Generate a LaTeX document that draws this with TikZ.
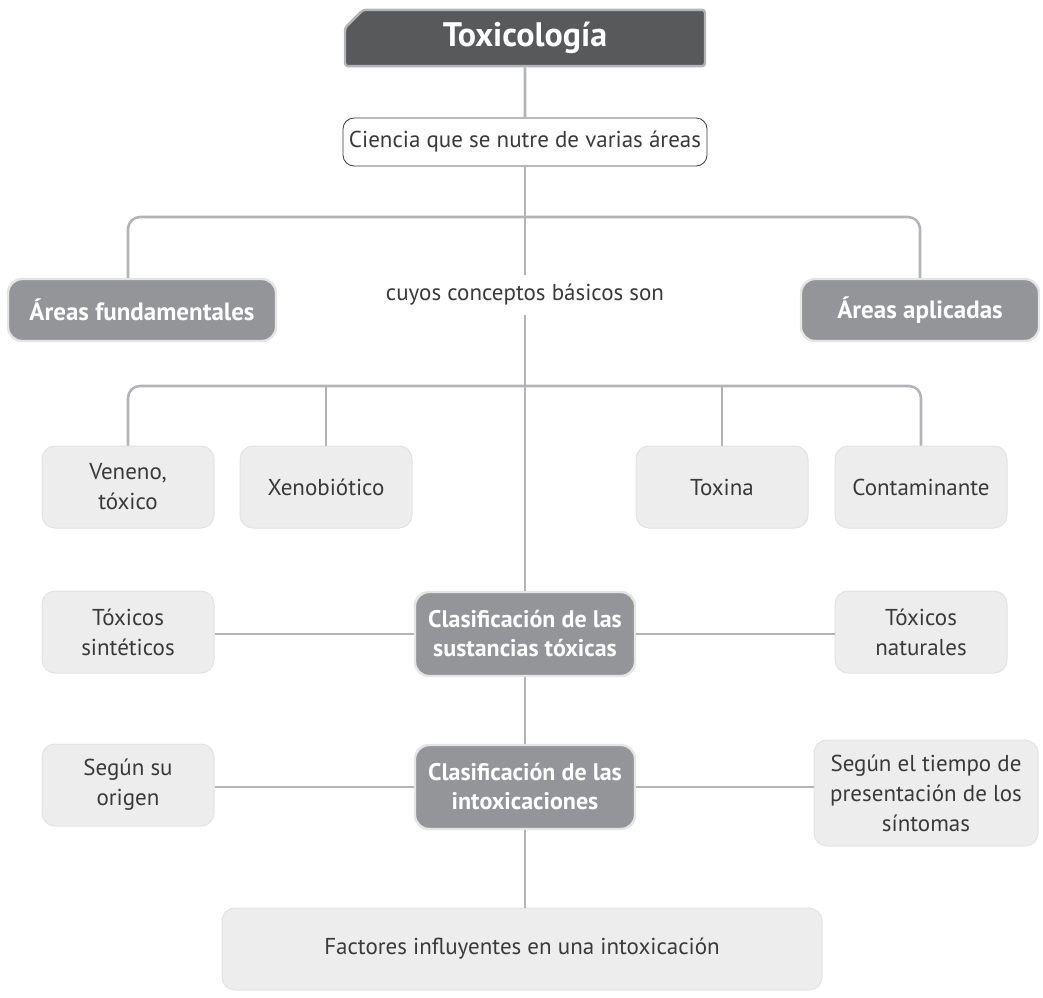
\documentclass[tikz,border=0pt]{standalone}
\usepackage{fontspec}
\setmainfont{PT Sans}
\usetikzlibrary{shapes.misc}
\definecolor{linegray}{HTML}{B3B4B7}
\definecolor{darkfill}{HTML}{939598}
\definecolor{titlefill}{HTML}{58595B}
\definecolor{lightfill}{HTML}{EDEDED}
\definecolor{txtgray}{HTML}{3A3A3C}
\tikzset{
  link/.style={draw=linegray, line width=2.6pt, rounded corners=12pt},
  titlebox/.style={chamfered rectangle, chamfered rectangle corners=north west,
    chamfered rectangle xsep=9pt, chamfered rectangle ysep=9pt,
    fill=titlefill, draw=linegray, line width=2.4pt, rounded corners=3pt,
    minimum width=360, minimum height=54, text=white,
    font=\fontsize{34}{38}\selectfont\bfseries},
  whitebox/.style={rectangle, rounded corners=11pt, draw=txtgray, line width=0.8pt,
    fill=white, minimum width=364, minimum height=48, text=txtgray,
    font=\fontsize{23}{27}\selectfont},
  darkbox/.style={rectangle, rounded corners=14pt, fill=darkfill, draw=black!10,
    line width=2.4pt, minimum height=62, text=white, align=center,
    font=\fontsize{24}{29}\selectfont\bfseries},
  lightbox/.style={rectangle, rounded corners=13pt, fill=lightfill, draw=black!11,
    line width=1pt, minimum width=172, minimum height=82, text=txtgray,
    align=center, font=\fontsize{23}{30}\selectfont},
  plain/.style={text=txtgray, inner sep=9pt, font=\fontsize{23}{27}\selectfont}
}
\begin{document}
\begin{tikzpicture}[x=1pt,y=-1pt]
    \useasboundingbox (0,0) rectangle (1043,997);
    \coordinate (B1) at (525,217);
    \coordinate (B2) at (525,386);
    \node [titlebox] (T0) at (525,38) {Toxicología};
    \node [whitebox] (C0) at (525,142) {Ciencia que se nutre de varias áreas};
    \node [plain] (K0) at (525,295) {cuyos conceptos básicos son};
    \node [darkbox, minimum width=268, font=\fontsize{25}{29}\selectfont\bfseries] (R1) at (142,310) {Áreas fundamentales};
    \node [darkbox, minimum width=238, font=\fontsize{25}{29}\selectfont\bfseries] (R2) at (920,310) {Áreas aplicadas};
    \node [lightbox] (V1) at (128,487) {Veneno,\\tóxico};
    \node [lightbox] (V2) at (326,487) {Xenobiótico};
    \node [lightbox] (V3) at (722,487) {Toxina};
    \node [lightbox] (V4) at (921,487) {Contaminante};
    \node [darkbox, minimum width=220, minimum height=84] (S0) at (525,634)
      {Clasificación de las\\sustancias tóxicas};
    \node [lightbox] (S1) at (128,632) {Tóxicos\\sintéticos};
    \node [lightbox] (S2) at (921,632) {Tóxicos\\naturales};
    \node [darkbox, minimum width=220, minimum height=84] (I0) at (525,787)
      {Clasificación de las\\intoxicaciones};
    \node [lightbox] (I1) at (128,785) {Según su\\origen};
    \node [lightbox, minimum width=224, minimum height=106] (I2) at (926,793)
      {Según el tiempo de\\presentación de los\\síntomas};
    \node [lightbox, minimum width=600] (F0) at (522,949)
      {Factores influyentes en una intoxicación};
      \draw [link] (T0) -- (C0);
      \draw [link] (C0) -- (K0);
      \draw [link] (K0) -- (S0);
      \draw [link] (R1.north -| V1.north) |- (B1) -| (R2.north);
      \draw [link] (V1) |- (B2) -| (V4);
      \draw [link] (V2) -- (V2 |- B2);
      \draw [link] (V3) -- (V3 |- B2);
      \draw [link] (S0.west) -- (S0.west -| S1.east);
      \draw [link] (S0.east) -- (S0.east -| S2.west);
      \draw [link] (S0) -- (I0);
      \draw [link] (I0.west) -- (I0.west -| I1.east);
      \draw [link] (I0.east) -- (I0.east -| I2.west);
      \draw [link] (I0) -- (I0 |- F0.north);
  \end{tikzpicture}
\end{document}
